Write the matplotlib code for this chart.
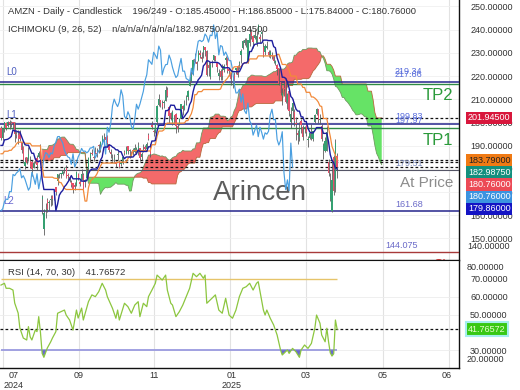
import numpy as np
import matplotlib
matplotlib.use("Agg")
import matplotlib.pyplot as plt

plt.rcParams['font.family'] = ['Liberation Sans', 'DejaVu Sans']

# ---------------- daily bars (index 0 .. 196) ----------------
opens = [
    197.7, 193.5, 197.3, 199.9, 198.6, 200.0, 199.4, 200.0, 200.1, 194.8,
    194.6, 195.6, 191.4, 189.6, 181.1, 185.0, 184.1, 183.2, 182.9, 180.4,
    183.8, 184.7, 185.1, 189.3, 166.8, 154.2, 161.7, 166.6, 165.2, 166.4,
    168.1, 167.8, 172.1, 174.9, 177.0, 177.6, 177.9, 179.9, 180.4, 177.3,
    176.7, 174.2, 173.7, 173.2, 172.8, 177.6, 174.5, 175.0, 177.2, 174.5,
    176.1, 180.0, 184.8, 187.0, 185.3, 186.9, 186.5, 190.0, 190.2, 191.6,
    194.3, 193.8, 194.3, 190.7, 187.1, 184.9, 184.4, 183.0, 185.8, 182.9,
    181.9, 182.8, 187.1, 186.6, 189.8, 187.6, 187.1, 188.2, 187.2, 188.1,
    188.4, 188.9, 185.3, 187.9, 189.6, 188.6, 194.7, 190.5, 199.0, 196.5,
    196.0, 200.0, 207.4, 209.7, 208.5, 208.4, 209.4, 214.2, 206.8, 204.2,
    199.3, 202.9, 203.5, 198.3, 199.3, 201.9, 206.9, 205.8, 209.9, 210.8,
    215.9, 218.0, 220.8, 227.2, 226.1, 226.4, 229.8, 228.4, 230.2, 232.4,
    230.8, 224.9, 219.8, 225.0, 226.9, 228.5, 225.6, 220.1, 222.0, 222.0,
    222.5, 226.8, 227.9, 223.2, 221.5, 218.1, 220.4, 222.8, 224.4, 225.8,
    228.9, 232.0, 234.1, 234.5, 226.2, 234.3, 239.0, 237.1, 236.5, 234.1,
    239.0, 237.0, 238.0, 232.5, 230.5, 231.9, 230.5, 228.9, 229.2, 228.8,
    225.5, 224.8, 223.3, 217.5, 211.6, 214.9, 218.3, 208.7, 213.4, 200.1,
    204.8, 204.4, 199.5, 195.6, 193.9, 200.7, 198.2, 197.4, 198.8, 192.5,
    193.4, 193.1, 192.9, 200.0, 203.6, 205.8, 200.9, 198.4, 188.2, 187.9,
    187.7, 183.0, 167.1, 162.0, 185.2, 172.1, 185.45]
highs = [
    198.3, 197.4, 200.4, 200.1, 200.6, 201.2, 200.6, 200.1, 200.3, 196.5,
    196.6, 196.6, 191.6, 189.7, 184.9, 185.1, 189.4, 185.4, 183.9, 183.2,
    184.8, 185.9, 187.9, 190.6, 168.8, 162.9, 165.1, 167.6, 166.7, 168.6,
    168.7, 171.0, 172.3, 177.9, 178.3, 178.3, 179.0, 180.6, 181.8, 178.0,
    177.0, 175.1, 173.7, 174.3, 178.9, 178.3, 175.2, 179.9, 178.4, 175.5,
    180.3, 184.9, 187.4, 188.5, 185.8, 189.5, 188.8, 190.9, 191.8, 194.5,
    195.4, 193.9, 194.5, 190.9, 188.5, 186.2, 186.6, 183.4, 187.6, 183.6,
    183.1, 185.6, 188.1, 189.9, 189.8, 188.4, 187.8, 188.9, 190.7, 189.5,
    191.5, 189.2, 187.1, 190.5, 190.2, 191.5, 195.6, 190.6, 200.5, 197.3,
    199.8, 207.6, 212.3, 209.9, 209.7, 209.5, 215.9, 215.3, 207.3, 204.7,
    205.3, 203.1, 203.9, 199.3, 201.9, 208.0, 207.6, 209.8, 212.0, 214.0,
    220.0, 222.2, 227.2, 230.1, 226.6, 231.2, 231.1, 230.2, 233.0, 232.7,
    231.4, 226.1, 226.2, 226.9, 229.1, 228.5, 226.0, 223.0, 223.2, 225.2,
    225.4, 228.8, 228.4, 223.5, 221.7, 219.4, 221.8, 223.6, 224.7, 226.5,
    231.8, 235.5, 236.5, 236.4, 235.6, 241.8, 240.2, 237.9, 240.3, 239.3,
    242.5, 238.3, 239.7, 234.8, 233.9, 235.2, 231.2, 231.4, 230.3, 229.0,
    227.0, 225.0, 223.3, 217.7, 214.7, 217.3, 219.0, 212.6, 214.0, 206.8,
    210.0, 205.8, 202.3, 196.7, 200.2, 201.5, 198.9, 198.6, 199.0, 194.0,
    195.9, 199.3, 196.0, 203.6, 206.2, 206.0, 203.8, 199.3, 191.3, 193.9,
    198.3, 184.1, 178.1, 183.4, 185.9, 192.7, 186.85]
lows = [
    192.3, 192.5, 195.9, 196.8, 198.2, 197.2, 198.2, 197.7, 191.4, 193.2,
    190.6, 192.2, 186.7, 182.7, 180.1, 182.0, 183.5, 180.4, 176.8, 180.2,
    182.4, 179.4, 184.7, 182.7, 160.6, 151.6, 158.9, 161.4, 162.3, 164.0,
    164.4, 166.7, 168.9, 173.0, 176.2, 176.2, 177.2, 178.2, 175.9, 175.3,
    174.4, 172.3, 169.5, 170.8, 172.6, 175.3, 172.6, 175.0, 171.2, 172.1,
    175.6, 175.7, 183.1, 185.9, 183.4, 186.2, 185.1, 186.8, 187.4, 190.8,
    190.8, 191.8, 189.5, 187.3, 184.7, 183.4, 182.6, 180.9, 183.6, 180.3,
    181.3, 182.2, 185.8, 186.3, 186.3, 184.6, 185.1, 186.0, 186.8, 186.4,
    186.0, 183.4, 183.9, 187.1, 187.5, 187.8, 192.4, 185.2, 197.0, 194.3,
    195.5, 199.1, 206.9, 206.7, 205.6, 206.3, 209.1, 210.8, 199.6, 200.9,
    198.8, 199.5, 195.3, 196.1, 199.1, 201.8, 203.2, 205.5, 207.4, 209.6,
    215.8, 217.3, 220.6, 225.7, 222.8, 226.3, 228.0, 225.9, 228.0, 228.6,
    220.1, 220.0, 218.7, 223.9, 226.4, 226.7, 221.8, 218.4, 218.4, 218.2,
    221.6, 224.8, 221.5, 220.1, 216.2, 214.9, 216.2, 220.8, 219.4, 223.1,
    225.5, 231.5, 233.6, 232.6, 225.8, 233.0, 236.2, 232.3, 236.0, 232.9,
    238.2, 234.4, 234.9, 228.4, 229.2, 231.8, 228.1, 227.9, 227.2, 225.7,
    224.7, 220.6, 216.2, 212.0, 207.6, 211.6, 208.4, 205.9, 202.6, 197.4,
    201.7, 198.3, 192.5, 190.7, 192.0, 195.3, 192.5, 195.3, 194.3, 189.4,
    192.8, 192.3, 191.9, 199.9, 203.2, 199.9, 199.3, 191.9, 184.4, 187.2,
    187.7, 176.9, 166.0, 161.4, 168.6, 169.9, 175.84]
closes = [
    193.25, 197.20, 200.00, 197.59, 200.00, 199.29, 199.34, 199.79, 195.05, 194.49,
    192.72, 193.02, 187.93, 183.75, 183.13, 182.55, 186.41, 180.83, 179.85, 182.50,
    183.20, 181.71, 186.98, 184.07, 167.90, 161.02, 161.93, 162.77, 165.80, 166.94,
    166.80, 170.23, 170.10, 177.59, 177.06, 178.22, 178.88, 180.11, 176.13, 177.04,
    175.50, 173.12, 170.80, 172.12, 178.50, 176.25, 173.33, 177.89, 171.39, 175.40,
    179.55, 184.52, 187.00, 186.49, 184.89, 186.88, 186.43, 189.87, 191.60, 193.88,
    193.96, 192.53, 191.16, 187.97, 186.33, 185.13, 184.76, 181.96, 186.51, 180.80,
    182.72, 185.17, 186.65, 188.82, 187.54, 187.69, 186.89, 187.53, 188.99, 189.07,
    189.70, 184.71, 186.38, 187.83, 188.39, 190.83, 192.73, 186.40, 197.93, 195.78,
    199.50, 207.09, 210.05, 208.18, 206.84, 208.91, 214.10, 211.48, 202.61, 201.70,
    204.61, 202.88, 198.38, 197.12, 201.45, 207.86, 205.74, 207.89, 210.71, 213.44,
    218.16, 220.55, 227.03, 226.09, 225.04, 230.26, 228.97, 227.46, 232.93, 231.15,
    220.52, 223.29, 224.92, 225.06, 229.05, 227.05, 223.75, 221.30, 219.39, 220.22,
    224.19, 227.61, 222.11, 222.13, 218.94, 218.46, 217.76, 223.35, 220.66, 225.94,
    230.71, 235.01, 235.42, 234.85, 235.42, 238.15, 237.07, 234.64, 237.68, 237.42,
    242.06, 236.17, 238.83, 229.15, 233.14, 232.76, 228.93, 230.37, 228.68, 226.65,
    226.63, 222.88, 216.58, 212.71, 212.80, 214.35, 208.74, 212.28, 205.02, 203.80,
    208.36, 200.70, 199.25, 194.54, 196.59, 198.89, 193.89, 197.95, 195.74, 192.82,
    195.54, 194.95, 196.21, 203.26, 205.71, 201.13, 201.36, 192.72, 190.26, 192.17,
    196.01, 178.41, 171.00, 175.26, 170.66, 191.10, 180.76]

# ---------------- ichimoku lines ----------------
tenkan = [
    190.1, 190.1, 192.5, 192.6, 192.8, 193.3, 194.0, 196.8, 196.3, 196.3,
    195.9, 195.9, 194.0, 192.0, 190.4, 190.2, 190.2, 188.4, 186.7, 186.7,
    184.2, 183.3, 183.1, 183.7, 175.6, 171.1, 171.1, 171.1, 171.1, 171.1,
    171.1, 171.1, 162.0, 164.8, 168.6, 169.9, 170.7, 172.3, 173.1, 174.3,
    175.4, 177.1, 175.7, 175.7, 175.7, 175.7, 175.7, 174.7, 174.7, 174.7,
    174.9, 177.9, 179.3, 179.9, 179.9, 179.9, 179.9, 181.5, 183.7, 185.1,
    189.3, 189.4, 189.4, 190.3, 190.1, 189.4, 189.0, 188.2, 188.2, 187.4,
    187.4, 185.6, 184.4, 185.1, 185.1, 185.1, 185.1, 185.1, 186.0, 186.5,
    188.1, 187.5, 187.5, 187.5, 187.5, 187.5, 189.5, 189.5, 192.0, 192.0,
    192.2, 196.4, 198.8, 198.8, 198.8, 198.8, 205.1, 205.1, 205.7, 207.5,
    207.4, 207.4, 205.6, 205.6, 205.6, 205.3, 201.7, 202.6, 203.7, 204.7,
    207.7, 209.2, 213.2, 216.0, 216.7, 218.4, 219.3, 220.4, 224.4, 225.2,
    226.6, 226.5, 225.9, 225.9, 225.9, 225.9, 225.9, 225.6, 224.9, 223.7,
    223.7, 223.5, 223.7, 223.5, 222.5, 221.9, 221.9, 221.9, 221.9, 221.9,
    223.4, 225.2, 225.7, 225.7, 226.4, 230.6, 230.6, 232.5, 233.7, 233.8,
    234.2, 234.2, 234.2, 235.5, 235.5, 235.5, 235.3, 235.3, 235.3, 232.7,
    232.2, 227.9, 225.7, 223.6, 219.5, 219.5, 219.0, 217.5, 214.8, 211.2,
    210.4, 208.2, 205.8, 204.9, 204.9, 202.4, 202.4, 200.4, 200.4, 197.6,
    195.9, 195.5, 195.5, 196.5, 197.8, 197.8, 197.8, 197.8, 195.3, 195.3,
    195.3, 191.6, 186.1, 183.7, 182.6, 180.4, 179.86]
kijun = [
    186.5, 186.5, 187.6, 187.6, 187.6, 188.0, 188.0, 189.0, 189.5, 190.8,
    191.5, 191.5, 191.5, 191.5, 191.0, 191.0, 191.0, 191.0, 189.9, 189.9,
    189.9, 189.9, 189.9, 189.9, 180.9, 176.4, 176.4, 176.4, 176.4, 176.4,
    176.4, 176.0, 175.9, 175.9, 174.1, 174.1, 172.8, 171.6, 171.1, 171.1,
    171.1, 171.1, 171.1, 171.1, 171.1, 171.1, 171.1, 171.1, 171.1, 166.1,
    166.1, 171.9, 174.5, 175.4, 176.2, 176.7, 177.9, 179.7, 181.2, 182.5,
    182.5, 182.5, 182.5, 182.5, 182.5, 182.5, 182.5, 182.5, 182.9, 182.9,
    182.9, 182.9, 182.9, 182.9, 184.4, 185.2, 185.6, 187.9, 187.9, 187.9,
    187.9, 187.9, 187.9, 187.9, 187.9, 187.9, 187.7, 187.7, 190.4, 190.4,
    190.4, 194.0, 196.3, 196.3, 196.3, 196.8, 199.3, 199.7, 199.7, 199.7,
    199.7, 199.7, 199.7, 199.7, 199.7, 199.7, 199.7, 199.8, 200.8, 200.8,
    202.4, 203.8, 206.4, 212.0, 212.0, 213.3, 213.3, 213.3, 214.2, 214.2,
    214.2, 214.2, 214.2, 214.2, 214.2, 214.2, 214.2, 214.2, 214.4, 216.3,
    217.3, 218.2, 219.0, 220.2, 221.3, 223.0, 224.0, 224.0, 224.0, 224.0,
    224.0, 225.2, 225.7, 225.7, 225.7, 227.4, 227.4, 227.4, 227.4, 227.4,
    228.7, 228.7, 228.7, 228.7, 228.7, 228.7, 228.7, 228.7, 228.7, 228.7,
    228.7, 229.3, 229.4, 227.3, 225.0, 225.0, 225.0, 224.2, 222.5, 220.0,
    220.0, 220.0, 220.0, 216.6, 216.6, 216.6, 215.1, 215.1, 213.0, 213.0,
    213.0, 211.0, 211.0, 210.5, 209.8, 208.8, 207.1, 206.9, 201.7, 201.7,
    201.7, 197.5, 194.0, 189.7, 187.7, 185.7, 183.79]

# cloud, bars 24 .. 222 (shown 26 bars ahead)
cloud_start = 24
senkou_a = [
    188.5, 188.4,
    188.3, 188.3, 190.1, 190.1, 190.2, 190.7, 191.0, 192.9, 192.9, 193.6,
    193.7, 193.7, 192.8, 191.8, 190.7, 190.6, 190.6, 189.7, 188.3, 188.3,
    187.1, 186.6, 186.5, 186.8, 178.3, 173.8, 173.8, 173.8, 173.8, 173.8,
    173.8, 173.6, 169.0, 170.4, 171.4, 172.0, 171.8, 172.0, 172.1, 172.7,
    173.3, 174.1, 173.4, 173.4, 173.4, 173.4, 173.4, 172.9, 172.9, 170.4,
    170.5, 174.9, 176.9, 177.7, 178.1, 178.3, 178.9, 180.6, 182.5, 183.8,
    185.9, 186.0, 186.0, 186.4, 186.3, 186.0, 185.8, 185.4, 185.6, 185.2,
    185.2, 184.3, 183.7, 184.0, 184.8, 185.2, 185.4, 186.5, 187.0, 187.2,
    188.0, 187.7, 187.7, 187.7, 187.7, 187.7, 188.6, 188.6, 191.2, 191.2,
    191.3, 195.2, 197.6, 197.6, 197.6, 197.8, 202.2, 202.4, 202.7, 203.6,
    203.6, 203.6, 202.7, 202.7, 202.7, 202.5, 200.7, 201.2, 202.3, 202.8,
    205.1, 206.5, 209.8, 214.0, 214.4, 215.9, 216.3, 216.9, 219.3, 219.7,
    220.4, 220.4, 220.1, 220.1, 220.1, 220.1, 220.1, 219.9, 219.7, 220.0,
    220.5, 220.9, 221.4, 221.9, 221.9, 222.5, 223.0, 223.0, 223.0, 223.0,
    223.7, 225.2, 225.7, 225.7, 226.1, 229.0, 229.0, 230.0, 230.6, 230.6,
    231.5, 231.5, 231.5, 232.1, 232.1, 232.1, 232.0, 232.0, 232.0, 230.7,
    230.5, 228.6, 227.6, 225.5, 222.3, 222.3, 222.0, 220.9, 218.7, 215.6,
    215.2, 214.1, 212.9, 210.8, 210.8, 209.5, 208.8, 207.8, 206.7, 205.3,
    204.5, 203.3, 203.3, 203.5, 203.8, 203.3, 202.5, 202.4, 198.5, 198.5,
    198.5, 194.6, 190.1, 186.7, 185.2, 183.1, 181.8]
senkou_b = [
    183.5, 183.5, 183.5, 183.5, 183.5, 183.5, 183.5, 184.8, 184.8, 184.8,
    184.8, 185.8, 185.8, 185.8, 185.8, 187.0, 187.0, 187.0, 187.0, 187.0,
    187.0, 187.0, 187.0, 187.0, 187.0, 187.0, 180.9, 176.4, 176.4, 176.4,
    176.4, 176.4, 176.4, 176.4, 176.4, 176.4, 176.4, 176.4, 176.4, 176.4,
    176.4, 176.4, 176.4, 176.4, 176.4, 176.4, 176.4, 176.4, 176.4, 176.4,
    176.4, 176.4, 176.4, 176.4, 176.4, 176.4, 176.4, 176.4, 176.4, 176.0,
    176.0, 176.0, 174.1, 174.1, 173.5, 173.5, 173.5, 173.5, 173.5, 173.5,
    173.5, 173.5, 173.5, 173.5, 173.5, 173.5, 173.5, 173.5, 173.5, 177.2,
    178.5, 178.8, 179.6, 179.9, 181.0, 182.0, 182.5, 182.5, 182.5, 182.5,
    185.0, 185.0, 185.0, 188.6, 190.9, 190.9, 191.3, 191.3, 193.1, 193.1,
    193.1, 193.1, 194.6, 195.5, 195.9, 198.1, 198.1, 198.1, 198.1, 198.1,
    198.1, 198.1, 199.8, 201.2, 203.8, 205.2, 205.2, 205.8, 205.8, 205.8,
    206.7, 206.7, 206.7, 207.2, 207.8, 208.2, 208.2, 208.2, 208.2, 208.2,
    208.2, 208.2, 208.2, 208.2, 208.2, 208.3, 209.3, 209.3, 209.3, 209.3,
    209.3, 213.7, 213.7, 215.4, 215.9, 215.9, 215.9, 218.6, 218.6, 218.6,
    218.6, 218.6, 218.9, 218.9, 218.9, 218.9, 219.3, 220.8, 222.2, 222.9,
    224.0, 225.0, 226.1, 228.7, 228.7, 227.3, 225.1, 225.1, 225.1, 224.2,
    222.6, 220.0, 220.0, 220.0, 220.0, 216.6, 216.6, 216.6, 216.6, 216.6,
    216.6, 216.6, 216.6, 216.6, 216.6, 216.6, 216.6, 216.6, 216.6, 216.6,
    213.5, 213.5, 213.5, 209.7, 204.3, 201.95, 201.95, 201.95, 201.95]

# ---------------- RSI (14) readings ----------------
rsi_bars = [0, 2, 3, 5, 7, 8, 10, 11, 13, 15, 16, 17, 18, 20, 21, 22, 23, 24, 25,
            27, 29, 30, 32, 33, 37, 38, 40, 42, 44, 45, 47, 48, 51, 53, 55, 57, 59,
            61, 62, 65, 67, 68, 69, 72, 74, 76, 78, 80, 81, 83, 85, 86, 88, 90, 91,
            94, 96, 97, 99, 100, 102, 104, 106, 108, 110, 112, 114, 116, 118, 119,
            120, 123, 125, 127, 129, 131, 133, 135, 137, 139, 141, 143, 145, 147,
            149, 150, 153, 154, 155, 157, 159, 161, 163, 164, 167, 168, 170, 172,
            174, 175, 177, 179, 181, 183, 184, 186, 187, 189, 190, 191, 192, 193,
            194, 195, 196]
rsi_vals = [66.5, 67.5, 64.7, 64.7, 63.7, 56.4, 50.8, 42.4, 36.8, 35.7, 43.2, 37.5,
            35.7, 41.3, 40.4, 48.8, 40.0, 28.2, 26.0, 31.2, 34.7, 36.8, 40.4, 50.7,
            52.5, 49.7, 46.9, 41.3, 52.5, 48.0, 53.6, 46.9, 57.2, 61.0, 60.0, 62.8,
            67.5, 63.7, 60.0, 53.5, 47.9, 52.5, 46.9, 56.3, 54.4, 50.7, 55.3, 57.2,
            48.8, 56.3, 54.4, 60.0, 63.7, 67.5, 72.1, 69.3, 72.1, 63.7, 56.3, 55.3,
            48.8, 51.6, 55.3, 60.0, 64.7, 73.1, 71.2, 73.1, 70.3, 72.1, 56.3, 59.1,
            61.0, 52.5, 50.7, 59.1, 49.7, 47.9, 52.5, 60.0, 64.7, 65.6, 67.5, 63.7,
            67.5, 68.4, 52.5, 49.7, 52.5, 47.9, 44.1, 38.5, 30.1, 27.3, 30.1, 28.2,
            31.0, 29.1, 26.0, 30.1, 32.9, 31.0, 33.8, 42.3, 49.7, 45.1, 38.5, 34.7,
            42.3, 34.7, 28.5, 26.7, 28.0, 46.9, 41.76572]
rsi_last = 41.76572

# ---------------- levels / labels ----------------
navy_levels = [217.6, 199.35, 161.68]
green_levels = [216.6, 197.5]
dashed_levels = [201.945, 183.79, 182.9875, 180.76]
pivot_level = 179.51
sl_level = 144.075
level_labels = ["219.34", "217.66", "199.83", "197.97", "179.51", "161.68", "144.075"]
level_label_values = [219.34, 217.66, 199.83, 197.97, 179.51, 161.68, 144.075]

box_values = [201.945, 183.79, 182.9875, 180.76, 180.76, 179.86]
box_colors = ['#d8173c', '#f07a14', '#13907e', '#ec4a56', '#3b93e0', '#1414c4']
box_text = ['white', '#222222', 'white', 'white', 'white', 'white']

tick_pos = [7.5, 45.5, 89.2, 134.5, 177.8, 222.7, 260.0]
grid_pos = [1.2, 45.5, 89.2, 133.5, 177.8, 222.7, 261.0]
tick_labels = ["07\n2024", "09", "11", "01\n2025", "03", "05", "06"]

header = ("AMZN - Daily - Candlestick    196/249 - O:185.45000 - H:186.85000 - "
          "L:175.84000 - C:180.76000")
ichi_text = "ICHIMOKU (9, 26, 52)    n/a/n/a/n/a/n/a/182.98750/201.94500"

# ---------------- figure ----------------
fig = plt.figure(figsize=(5.2, 3.9), dpi=100)
ax = fig.add_axes([0, 130 / 390, 459 / 520, 260 / 390])
axr = fig.add_axes([0, 22 / 390, 459 / 520, 107 / 390])

xlim = (-0.58, 267.06)
y_lo, y_hi = 140.7, 252.8

o = np.array(opens); h = np.array(highs); l = np.array(lows); c = np.array(closes)
x = np.arange(len(c))

for a_ in (ax, axr):
    a_.set_xlim(*xlim)
    for xt in grid_pos:
        a_.axvline(xt, color='#e2e2e2', lw=0.8, zorder=0)
    for s in ('top', 'left'):
        a_.spines[s].set_visible(False)
    for s in ('right', 'bottom'):
        a_.spines[s].set_color('#111111')
        a_.spines[s].set_linewidth(1.0)

ax.set_ylim(y_lo, y_hi)
for yv in range(150, 260, 10):
    ax.axhline(yv, color='#f0f0f0', lw=0.6, zorder=0)

# cloud
xc = np.arange(cloud_start, cloud_start + len(senkou_a))
sa = np.array(senkou_a); sb = np.array(senkou_b)
ax.fill_between(xc, sa, sb, where=sa >= sb, interpolate=True,
                color='#f46a6a', lw=0, zorder=2)
ax.fill_between(xc, sa, sb, where=sa < sb, interpolate=True,
                color='#66e366', lw=0, zorder=2)
ax.plot(xc, sa, color='#6f9a60', lw=0.6, zorder=2.5)
ax.plot(xc, sb, color='#b8683c', lw=0.6, zorder=2.5)

# horizontal levels
for lv in navy_levels:
    ax.axhline(lv, color='#25258c', lw=1.1, zorder=3)
for lv in green_levels:
    ax.axhline(lv, color='#2f8a45', lw=1.0, zorder=3)
for lv in dashed_levels:
    ax.axhline(lv, color='#111111', lw=0.9, ls=(0, (2.2, 1.8)), zorder=3)
ax.axhline(pivot_level, color='#555566', lw=0.8, zorder=3)
ax.axhline(sl_level, color='#a83a3a', lw=1.0, zorder=3)

# candles
ax.vlines(x, l, h, color='#5c5c5c', lw=0.6, zorder=4)
up = c >= o
body = np.maximum(np.abs(c - o), 0.35)
ax.bar(x[up], body[up], bottom=o[up], width=0.75, color='#35a071', lw=0, zorder=5)
ax.bar(x[~up], body[~up], bottom=c[~up], width=0.75, color='#e7506a', lw=0, zorder=5)

# ichimoku lines
ax.plot(x[26:] - 26, c[26:], color='#4a9fe0', lw=0.85, zorder=6)
ax.plot(x, kijun, color='#f28a3a', lw=0.9, zorder=6)
ax.plot(x, tenkan, color='#1e1e9e', lw=1.0, zorder=6.5)

# level value labels
for txt, val in zip(level_labels, level_label_values):
    xpos = 224 if txt == "144.075" else 229.7
    col = '#6a6ac8' if val < 170 else ('#7f8fbf' if val < 190 else '#5a6edc')
    ax.annotate(txt, xy=(xpos, val), xytext=(0, 1.5), textcoords='offset points',
                fontsize=6.5, color=col, va='bottom', ha='left', zorder=7)

ax.text(0.013, 0.723, "L0", transform=ax.transAxes, fontsize=7, color='#5060c0', va='center')
ax.text(0.013, 0.558, "L1", transform=ax.transAxes, fontsize=7, color='#5060c0', va='center')
ax.text(0.008, 0.227, "L2", transform=ax.transAxes, fontsize=7, color='#6a6ad0', va='center')

ax.text(0.987, 0.631, "TP2", transform=ax.transAxes, fontsize=12, color='#2a9a3a',
        ha='right', va='center', zorder=7)
ax.text(0.987, 0.458, "TP1", transform=ax.transAxes, fontsize=12, color='#2a9a3a',
        ha='right', va='center', zorder=7)
ax.text(0.987, 0.298, "At Price", transform=ax.transAxes, fontsize=11, color='#8c8c8c',
        ha='right', va='center', zorder=7)
ax.text(0.962, -0.02, "SL", transform=ax.transAxes, fontsize=10, color='#c03030',
        ha='center', va='center', clip_on=True, zorder=7)
ax.text(0.566, 0.258, "Arincen", transform=ax.transAxes, fontsize=20, color='#5c5c5c',
        ha='center', va='center', zorder=1)

ax.text(0.0174, 0.954, header, transform=ax.transAxes, fontsize=6.8, color='#333333',
        va='center', zorder=8)
ax.text(0.0174, 0.885, ichi_text, transform=ax.transAxes, fontsize=6.8, color='#333333',
        va='center', zorder=8)

# right price scale
ax.yaxis.tick_right()
ax.set_yticks(list(range(150, 260, 10)))
ax.set_yticklabels(["%.5f" % v for v in range(150, 260, 10)])
ax.tick_params(axis='y', length=0, pad=8, labelsize=6.5, labelcolor='#333333')
ax.tick_params(axis='x', length=0, labelbottom=False)
ax.text(1 + 8 / 459, 0.051, "140.00000", transform=ax.transAxes, fontsize=6.5,
        color='#333333', va='center', ha='left')

# stacked value boxes
px_per_unit = 260 / (y_hi - y_lo)
prev_px = None
for val, bg, fg in zip(box_values, box_colors, box_text):
    want = (y_hi - val) * px_per_unit
    if prev_px is not None and want < prev_px + 12.2:
        want = prev_px + 12.2
    prev_px = want
    off = -(want - (y_hi - val) * px_per_unit) * 0.72
    ax.annotate("%.5f" % val, xy=(1, val), xycoords=('axes fraction', 'data'),
                xytext=(6.5, off), textcoords='offset points', fontsize=6.5,
                color=fg, va='center', ha='left', annotation_clip=False, zorder=9,
                bbox=dict(boxstyle='square,pad=0.18', fc=bg, ec='none'))

# ---------------- RSI panel ----------------
rb = np.array(rsi_bars); rv = np.array(rsi_vals)
axr.set_ylim(20, 80)
for yv in (20, 30, 50, 60, 80):
    axr.axhline(yv, color='#ececec', lw=0.6, zorder=0)
axr.hlines(70, 0, rb[-1], color='#e6c46a', lw=1.0, zorder=2)
axr.hlines(30, 0, rb[-1], color='#9a9adf', lw=1.3, zorder=2)
axr.axhline(rsi_last, color='#111111', lw=0.9, ls=(0, (2.2, 1.8)), zorder=2)
axr.fill_between(rb, rv, 30, where=rv < 30, interpolate=True, color='#6a6ad0', lw=0, zorder=3)
axr.plot(rb, rv, color='#8cc63f', lw=0.9, zorder=4)
axr.text(0.0174, 0.89, "RSI (14, 70, 30)    %.5f" % rsi_last, transform=axr.transAxes,
         fontsize=6.8, color='#333333', va='center')

axr.yaxis.tick_right()
axr.set_yticks([30, 50, 60, 70])
axr.set_yticklabels(["%.5f" % v for v in (30, 50, 60, 70)])
axr.tick_params(axis='y', length=0, pad=8, labelsize=6.5, labelcolor='#333333')
axr.text(1 + 8 / 459, 0.935, "80.00000", transform=axr.transAxes, fontsize=6.5,
         color='#333333', va='center', ha='left')
axr.text(1 + 8 / 459, 0.075, "20.00000", transform=axr.transAxes, fontsize=6.5,
         color='#333333', va='center', ha='left')
axr.annotate("%.5f" % rsi_last, xy=(1, rsi_last), xycoords=('axes fraction', 'data'),
             xytext=(6.5, 0), textcoords='offset points', fontsize=6.5, color='#e8ffd0',
             va='center', ha='left', annotation_clip=False, zorder=9,
             bbox=dict(boxstyle='square,pad=0.25', fc='#38c814', ec='#a6eeee', lw=1.5))

axr.set_xticks(tick_pos)
axr.set_xticklabels(tick_labels)
axr.tick_params(axis='x', length=0, pad=2, labelsize=6.5, labelcolor='#333333')

fig.savefig("out.png", dpi=100)
